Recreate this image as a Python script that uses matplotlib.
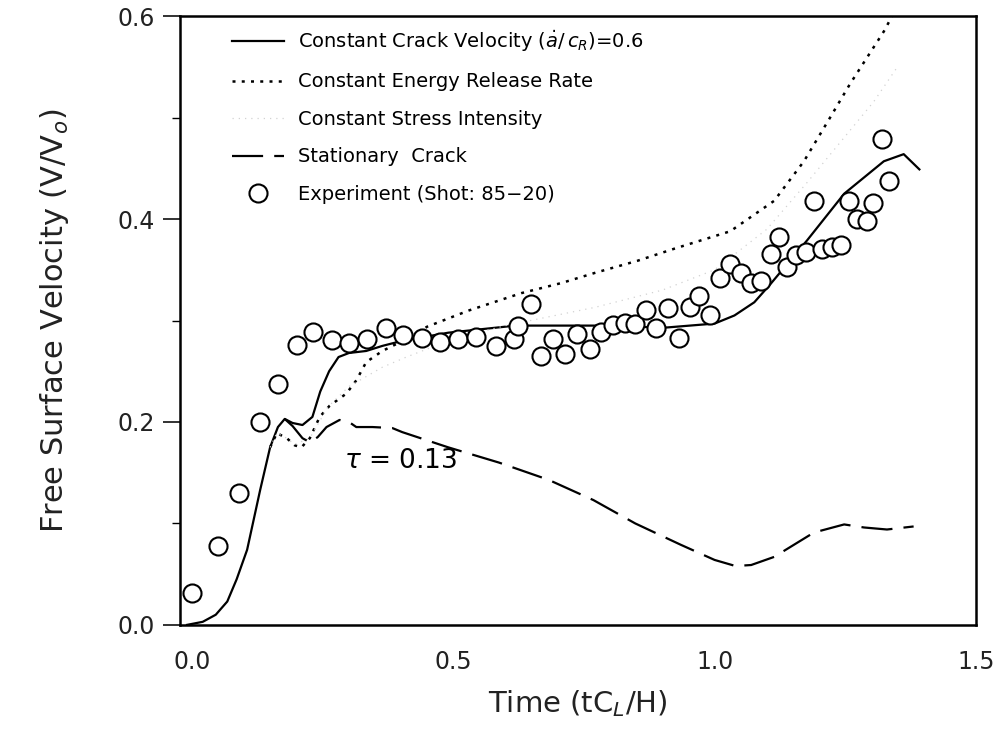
import matplotlib
matplotlib.use("Agg")
import matplotlib.pyplot as plt
from matplotlib.ticker import MultipleLocator

# experiment (shot 85-20)
exp_t = [0.0, 0.05, 0.09, 0.13, 0.164, 0.20, 0.232, 0.267, 0.30, 0.335, 0.371, 0.404,
         0.44, 0.474, 0.509, 0.543, 0.581, 0.615, 0.623, 0.648, 0.668, 0.691, 0.714,
         0.737, 0.762, 0.783, 0.806, 0.829, 0.848, 0.869, 0.888, 0.910, 0.931, 0.952,
         0.971, 0.992, 1.011, 1.030, 1.050, 1.069, 1.088, 1.107, 1.124, 1.139, 1.156,
         1.175, 1.19, 1.206, 1.225, 1.242, 1.257, 1.272, 1.291, 1.303, 1.32, 1.333]
exp_v = [0.031, 0.078, 0.130, 0.200, 0.237, 0.276, 0.289, 0.281, 0.278, 0.282, 0.293, 0.286,
         0.283, 0.279, 0.282, 0.284, 0.275, 0.282, 0.295, 0.316, 0.265, 0.282, 0.267,
         0.287, 0.272, 0.289, 0.296, 0.298, 0.297, 0.310, 0.293, 0.312, 0.283, 0.313,
         0.324, 0.305, 0.342, 0.356, 0.347, 0.337, 0.339, 0.366, 0.382, 0.353, 0.365,
         0.368, 0.418, 0.371, 0.372, 0.374, 0.418, 0.400, 0.398, 0.416, 0.479, 0.438]

# constant crack velocity
ccv_t = [-0.01, 0.02, 0.045, 0.067, 0.085, 0.105, 0.13, 0.149, 0.164, 0.177, 0.192, 0.211,
         0.23, 0.245, 0.262, 0.28, 0.30, 0.333, 0.364, 0.402, 0.49, 0.619, 0.777, 0.905,
         1.0, 1.038, 1.076, 1.107, 1.133, 1.177, 1.248, 1.324, 1.362, 1.392]
ccv_v = [0.0, 0.003, 0.010, 0.023, 0.045, 0.074, 0.133, 0.175, 0.195, 0.203, 0.199, 0.197,
         0.205, 0.230, 0.250, 0.264, 0.268, 0.270, 0.275, 0.280, 0.288, 0.295, 0.295, 0.293,
         0.297, 0.305, 0.318, 0.336, 0.352, 0.379, 0.425, 0.457, 0.464, 0.449]

# constant energy release rate
cer_t = [0.149, 0.162, 0.181, 0.196, 0.209, 0.225, 0.244, 0.263, 0.295, 0.314, 0.333,
         0.364, 0.403, 0.45, 0.49, 0.53, 0.63, 0.707, 0.771, 0.853, 0.924, 1.03, 1.114,
         1.171, 1.221, 1.259, 1.324, 1.345]
cer_v = [0.175, 0.189, 0.184, 0.177, 0.175, 0.184, 0.205, 0.216, 0.228, 0.241, 0.259,
         0.270, 0.280, 0.294, 0.302, 0.310, 0.327, 0.337, 0.347, 0.359, 0.371, 0.388, 0.418,
         0.457, 0.500, 0.533, 0.585, 0.605]

# constant stress intensity (faint)
csi_t = [0.149, 0.162, 0.181, 0.196, 0.225, 0.26, 0.30, 0.364, 0.41, 0.50, 0.60, 0.771,
         0.90, 1.0, 1.1, 1.177, 1.305, 1.35]
csi_v = [0.175, 0.189, 0.184, 0.178, 0.184, 0.215, 0.235, 0.254, 0.264, 0.282, 0.295, 0.313,
         0.330, 0.350, 0.390, 0.436, 0.516, 0.550]

# stationary crack
sc_t = [0.177, 0.192, 0.211, 0.225, 0.24, 0.257, 0.282, 0.30, 0.314, 0.345, 0.383, 0.402,
        0.49, 0.587, 0.682, 0.768, 0.848, 0.935, 1.0, 1.04, 1.07, 1.114, 1.19, 1.248,
        1.286, 1.33, 1.381]
sc_v = [0.203, 0.196, 0.184, 0.180, 0.185, 0.195, 0.202, 0.200, 0.195, 0.195, 0.194, 0.190,
        0.175, 0.160, 0.143, 0.123, 0.100, 0.079, 0.064, 0.058, 0.059, 0.067, 0.091, 0.099,
        0.096, 0.094, 0.097]

plt.rcParams['font.family'] = ['DejaVu Sans']

fig = plt.figure(figsize=(10.07, 7.36), dpi=100)
ax = fig.add_axes([0.179, 0.151, 0.790, 0.827])

ax.plot(ccv_t, ccv_v, '-', color='black', lw=1.6,
        label=r'Constant Crack Velocity $(\dot{a}/\,c_R)$=0.6')
ax.plot(cer_t, cer_v, color='black', lw=1.8, linestyle=(0, (1.2, 2.5)),
        label='Constant Energy Release Rate')
ax.plot(csi_t, csi_v, color='#d2d2d2', lw=0.9, linestyle=(0, (1, 4)),
        label='Constant Stress Intensity')
ax.plot(sc_t, sc_v, color='black', lw=1.6, linestyle=(0, (14, 5)),
        label='Stationary  Crack')
ax.plot(exp_t, exp_v, 'o', mfc='white', mec='black', mew=1.5, ms=13,
        label='Experiment (Shot: 85\u221220)')

ax.text(0.29, 0.162, r'$\tau$ = 0.13', fontsize=19, ha='left', va='center')

ax.set_xlim(-0.023, 1.5)
ax.set_ylim(0.0, 0.6)
ax.set_xticks([0.0, 0.5, 1.0, 1.5])
ax.set_xticklabels(['0.0', '0.5', '1.0', '1.5'])
ax.set_yticks([0.0, 0.2, 0.4, 0.6])
ax.set_yticklabels(['0.0', '0.2', '0.4', '0.6'])
ax.yaxis.set_minor_locator(MultipleLocator(0.1))
ax.tick_params(axis='y', which='major', direction='out', length=12, width=1.3,
               labelsize=17, pad=6, colors='#222222')
ax.tick_params(axis='y', which='minor', direction='out', length=6, width=1.0)
ax.tick_params(axis='x', length=0, labelsize=17, pad=18, colors='#222222')
for s in ax.spines.values():
    s.set_linewidth(1.8)

ax.set_xlabel(r'Time (tC$_L$/H)', fontsize=21, labelpad=10, color='#222222')
ax.set_ylabel(r'Free Surface Velocity (V/V$_o$)', fontsize=22, labelpad=34, color='#222222')

ax.legend(loc='upper left', bbox_to_anchor=(0.065, 0.98), frameon=False, fontsize=14,
          handlelength=2.7, handletextpad=0.7, labelspacing=0.95, borderpad=0,
          borderaxespad=0)

fig.savefig('out.png', dpi=100)
